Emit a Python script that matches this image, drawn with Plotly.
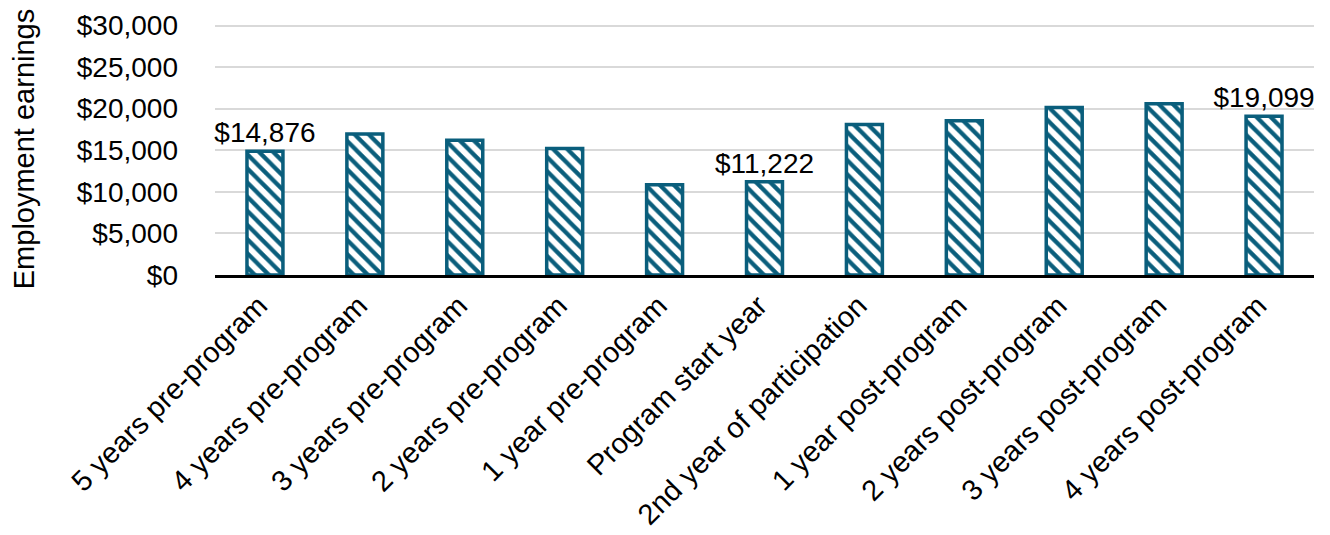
import plotly.graph_objects as go

categories = [
    "5 years pre-program", "4 years pre-program", "3 years pre-program",
    "2 years pre-program", "1 year pre-program", "Program start year",
    "2nd year of participation", "1 year post-program", "2 years post-program",
    "3 years post-program", "4 years post-program",
]
earnings = [14876, 16950, 16200, 15200, 10850, 11222, 18100, 18550, 20150, 20600, 19099]
labels = ["$14,876", "", "", "", "", "$11,222", "", "", "", "", "$19,099"]
y_ticks = [0, 5000, 10000, 15000, 20000, 25000, 30000]
y_tick_text = ["$0", "$5,000", "$10,000", "$15,000", "$20,000", "$25,000", "$30,000"]

TEAL = "#0A5E7C"
FONT = "Liberation Sans, Arial, sans-serif"

fig = go.Figure(
    go.Bar(
        x=categories,
        y=earnings,
        text=labels,
        textposition="outside",
        constraintext="none",
        textfont=dict(size=28, color="#000000", family=FONT),
        cliponaxis=False,
        marker=dict(
            color="white",
            line=dict(color=TEAL, width=3.5),
            pattern=dict(shape="\\", fgcolor=TEAL, fgopacity=1, bgcolor="white",
                         size=10, solidity=0.42),
        ),
    )
)

fig.update_layout(
    width=1322,
    height=527,
    margin=dict(l=207, r=16, t=15, b=260),
    paper_bgcolor="white",
    plot_bgcolor="white",
    bargap=0.64,
    showlegend=False,
    font=dict(family=FONT, color="#000000"),
)
fig.update_xaxes(
    tickangle=-45,
    tickfont=dict(size=29, family=FONT, color="#000000"),
    showline=True,
    linecolor="#000000",
    linewidth=3,
    ticks="",
    ticklabelstandoff=-1,
    ticklabelshift=-6,
    automargin=False,
)
fig.update_yaxes(
    range=[0, 30300],
    tickvals=y_ticks,
    ticktext=y_tick_text,
    tickfont=dict(size=28, family=FONT, color="#000000"),
    showgrid=True,
    gridcolor="#D9D9D9",
    gridwidth=1.5,
    zeroline=False,
    ticklabelstandoff=36,
    title=dict(text="Employment earnings", font=dict(size=29, family=FONT, color="#000000"), standoff=46),
    automargin=False,
)

fig.write_html("out.html")
